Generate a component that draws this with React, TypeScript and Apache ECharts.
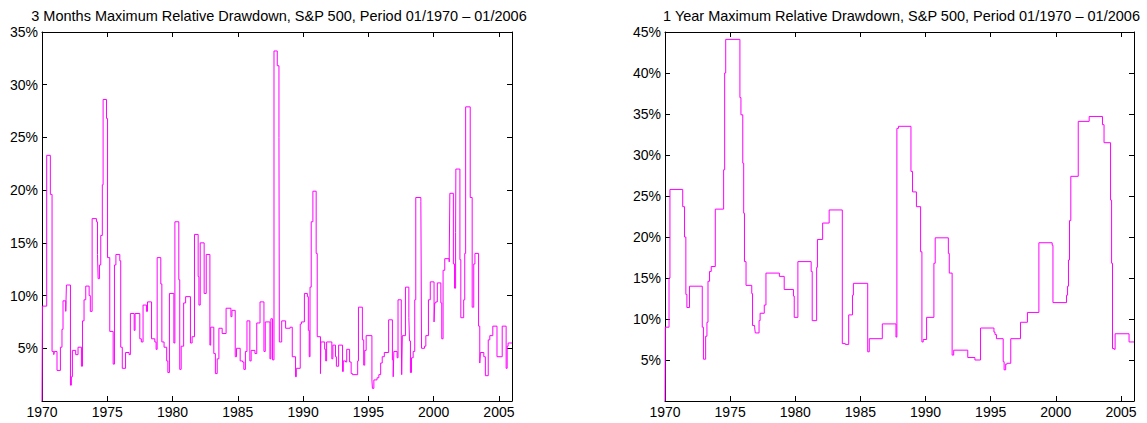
import React, { useEffect, useRef } from "react";
import * as echarts from "echarts";

const titles = [
  "3 Months Maximum Relative Drawdown, S&P 500, Period 01/1970 – 01/2006",
  "1 Year Maximum Relative Drawdown, S&P 500, Period 01/1970 – 01/2006",
];

const yearTicks = [1970, 1975, 1980, 1985, 1990, 1995, 2000, 2005];

// 3-month rolling maximum relative drawdown (%), step values starting at each date
const dd3mDates = [
  1970.0, 1970.03, 1970.36, 1970.64, 1970.77, 1970.9, 1970.95, 1971.15, 1971.41, 1971.53,
  1971.61, 1971.82, 1971.87, 1972.18, 1972.25, 1972.33, 1972.58, 1972.76, 1973.02, 1973.1,
  1973.22, 1973.35, 1973.61, 1973.7, 1973.84, 1974.17, 1974.25, 1974.3, 1974.4, 1974.5,
  1974.62, 1974.68, 1974.94, 1975.02, 1975.19, 1975.45, 1975.55, 1975.66, 1975.96, 1976.03,
  1976.15, 1976.4, 1976.67, 1976.77, 1977.06, 1977.13, 1977.49, 1977.61, 1977.74, 1978.0,
  1978.08, 1978.39, 1978.64, 1978.74, 1978.82, 1979.1, 1979.18, 1979.35, 1979.55, 1979.64,
  1979.76, 1980.1, 1980.18, 1980.48, 1980.55, 1980.66, 1980.85, 1981.0, 1981.37, 1981.5,
  1981.68, 1981.96, 1982.02, 1982.12, 1982.42, 1982.58, 1982.86, 1982.92, 1983.16, 1983.28,
  1983.42, 1983.55, 1983.8, 1984.1, 1984.47, 1984.55, 1984.8, 1984.9, 1985.18, 1985.36,
  1985.46, 1985.58, 1985.7, 1985.92, 1986.02, 1986.31, 1986.45, 1986.7, 1987.0, 1987.1,
  1987.46, 1987.53, 1987.66, 1987.77, 1988.02, 1988.15, 1988.18, 1988.36, 1988.66, 1989.01,
  1989.17, 1989.42, 1989.48, 1989.78, 1989.87, 1990.1, 1990.33, 1990.4, 1990.47, 1990.53,
  1990.62, 1990.75, 1991.0, 1991.08, 1991.33, 1991.36, 1991.65, 1991.73, 1991.8, 1992.2,
  1992.28, 1992.48, 1992.55, 1992.72, 1993.02, 1993.08, 1993.25, 1993.34, 1993.56, 1993.68,
  1993.78, 1994.18, 1994.24, 1994.54, 1994.64, 1994.72, 1994.83, 1995.27, 1995.31, 1995.42,
  1995.66, 1995.8, 1995.94, 1996.06, 1996.22, 1996.55, 1996.84, 1996.9, 1996.95, 1997.2,
  1997.27, 1997.52, 1997.55, 1997.6, 1997.84, 1998.1, 1998.15, 1998.22, 1998.3, 1998.43,
  1998.55, 1998.63, 1999.02, 1999.07, 1999.3, 1999.4, 1999.6, 1999.74, 2000.03, 2000.08,
  2000.16, 2000.28, 2000.55, 2000.62, 2000.72, 2000.85, 2001.19, 2001.24, 2001.51, 2001.6,
  2001.68, 2001.7, 2002.01, 2002.08, 2002.3, 2002.38, 2002.45, 2002.8, 2002.95, 2003.07,
  2003.16, 2003.44, 2003.53, 2003.58, 2003.84, 2003.96, 2004.18, 2004.3, 2004.53, 2004.85,
  2005.25, 2005.55, 2005.63, 2005.7, 2006.0,
];
const dd3mValues = [
  0, 9.0, 23.3, 19.6, 4.7, 4.4, 4.7, 2.9, 5.1, 6.8,
  9.5, 8.5, 11.0, 1.5, 2.3, 4.8, 4.4, 5.1, 3.3, 7.6,
  9.6, 10.9, 10.0, 8.5, 17.3, 17.0, 13.9, 11.6, 12.9, 15.7,
  20.5, 28.6, 26.8, 13.6, 6.6, 3.5, 12.9, 13.9, 13.3, 5.1,
  3.1, 4.6, 4.4, 8.3, 6.7, 8.3, 5.9, 5.6, 9.1, 8.5,
  9.4, 5.9, 5.6, 4.9, 13.6, 11.1, 5.6, 5.1, 3.8, 2.7,
  10.2, 5.5, 17.0, 11.5, 3.0, 5.2, 9.3, 9.9, 5.5, 6.1,
  15.8, 11.8, 9.1, 15.0, 10.2, 13.9, 5.3, 7.0, 4.5, 2.6,
  4.0, 6.9, 6.4, 8.8, 8.0, 8.6, 4.2, 5.0, 3.8, 3.7,
  3.0, 4.7, 7.6, 3.8, 4.8, 4.5, 7.4, 9.4, 4.7, 7.5,
  4.0, 7.8, 3.9, 33.2, 31.8, 25.0, 5.6, 7.6, 6.9, 7.0,
  4.2, 2.3, 3.1, 7.3, 7.5, 10.2, 9.9, 6.7, 4.2, 10.8,
  17.0, 19.9, 14.0, 6.1, 2.6, 5.6, 4.9, 3.8, 5.6, 4.0,
  5.3, 4.2, 3.3, 5.3, 2.8, 3.8, 3.7, 4.9, 3.7, 2.6,
  2.5, 3.8, 8.9, 5.8, 3.4, 4.8, 6.2, 2.0, 1.2, 2.0,
  2.2, 2.5, 3.6, 4.2, 4.6, 7.7, 3.9, 2.3, 4.7, 4.1,
  9.6, 6.2, 2.5, 6.2, 10.8, 7.9, 5.7, 2.7, 4.1, 4.7,
  9.6, 19.3, 18.9, 5.0, 5.2, 6.2, 9.6, 11.3, 7.5, 9.3,
  9.4, 11.2, 9.3, 5.9, 12.4, 13.5, 13.2, 19.7, 13.0, 10.7,
  16.0, 22.0, 13.4, 7.9, 9.6, 14.0, 27.9, 19.3, 8.9, 13.0,
  14.0, 7.1, 3.6, 4.6, 4.2, 2.4, 5.8, 6.2, 7.1, 4.2,
  7.1, 3.1, 5.2, 5.5, 5.5,
];

// 1-year rolling maximum relative drawdown (%)
const dd1yDates = [
  1970.0, 1970.02, 1970.31, 1970.38, 1971.36, 1971.5, 1971.6, 1971.68, 1971.88, 1972.86,
  1972.95, 1973.12, 1973.22, 1973.3, 1973.42, 1973.55, 1973.86, 1974.5, 1974.58, 1974.66,
  1975.75, 1975.83, 1975.97, 1976.04, 1976.1, 1976.22, 1976.66, 1976.72, 1976.88, 1976.93,
  1977.22, 1977.3, 1977.62, 1977.75, 1978.78, 1979.15, 1979.86, 1979.92, 1980.2, 1981.22,
  1981.3, 1981.64, 1981.7, 1982.1, 1982.6, 1983.61, 1983.84, 1984.1, 1984.39, 1984.46,
  1985.56, 1985.68, 1986.68, 1987.73, 1987.8, 1987.92, 1988.88, 1989.0, 1989.3, 1989.62,
  1989.72, 1989.82, 1990.08, 1990.64, 1990.74, 1991.75, 1991.82, 1992.04, 1992.16, 1993.24,
  1993.79, 1994.22, 1995.25, 1995.33, 1995.44, 1995.96, 1996.03, 1996.15, 1996.26, 1996.54,
  1997.29, 1997.82, 1998.7, 1999.72, 1999.78, 2000.82, 2000.9, 2000.97, 2001.05, 2001.15,
  2001.72, 2002.56, 2003.58, 2003.7, 2004.2, 2004.28, 2004.35, 2004.48, 2004.55, 2005.62,
  2006.0,
];
const dd1yValues = [
  0, 9.0, 15.0, 25.8, 23.7, 20.0, 13.0, 11.4, 14.0, 9.0,
  5.1, 7.9, 9.6, 14.6, 15.8, 16.4, 23.4, 28.2, 40.0, 44.1,
  37.0, 34.9, 29.0, 22.9, 17.0, 14.1, 13.1, 9.2, 9.0, 8.3,
  9.8, 10.7, 11.7, 15.6, 15.2, 13.6, 12.8, 10.2, 17.0, 15.8,
  9.8, 16.3, 19.7, 21.7, 23.3, 7.0, 6.9, 10.5, 12.9, 14.35,
  6.0, 7.6, 9.4, 7.8, 33.25, 33.5, 28.0, 25.5, 23.7, 18.2,
  7.2, 7.5, 10.2, 16.8, 19.9, 18.0, 15.6, 5.6, 6.2, 5.3,
  5.0, 8.9, 8.4, 8.1, 7.6, 4.8, 3.8, 4.5, 4.6, 7.6,
  9.6, 10.8, 19.3, 19.0, 12.0, 12.9, 14.0, 17.2, 22.0, 27.4,
  34.1, 34.7, 33.7, 31.5, 24.5, 16.8, 6.4, 6.3, 8.2, 7.2,
  7.2,
];

const FONT = '"Liberation Sans", Arial, Helvetica, sans-serif';

export default function App() {
  const ref = useRef<HTMLDivElement>(null);

  useEffect(() => {
    document.body.style.margin = "0";
    if (!ref.current) return;
    const chart = echarts.init(ref.current, undefined, { renderer: "svg" });

    const axisLine = { show: true, onZero: false, lineStyle: { color: "#000", width: 1 } };
    const tick = { show: true, inside: true, length: 5, lineStyle: { color: "#000", width: 1 } };
    const xFmt = (v: number) => (yearTicks.indexOf(v) >= 0 ? String(v) : "");
    const yFmt = (v: number) => (v === 0 ? "" : v + "%");
    const labelStyle = { fontSize: 14, color: "#000", fontFamily: FONT };

    const grids = [
      { left: 42, top: 32, width: 470, height: 369 },
      { left: 665, top: 32, width: 469, height: 369 },
    ];
    const yMax = [35, 45];

    const xAxis: any[] = [];
    const yAxis: any[] = [];
    grids.forEach((_, i) => {
      xAxis.push({
        gridIndex: i, type: "value", min: 1970, max: 2006, interval: 5, position: "bottom",
        axisLine, axisTick: tick, splitLine: { show: false },
        axisLabel: { ...labelStyle, formatter: xFmt, margin: 4 },
      });
      xAxis.push({
        gridIndex: i, type: "value", min: 1970, max: 2006, interval: 5, position: "top",
        axisLine, axisTick: tick, splitLine: { show: false }, axisLabel: { show: false },
      });
      yAxis.push({
        gridIndex: i, type: "value", min: 0, max: yMax[i], interval: 5, position: "left",
        axisLine, axisTick: tick, splitLine: { show: false },
        axisLabel: { ...labelStyle, formatter: yFmt, margin: 4 },
      });
      yAxis.push({
        gridIndex: i, type: "value", min: 0, max: yMax[i], interval: 5, position: "right",
        axisLine, axisTick: tick, splitLine: { show: false }, axisLabel: { show: false },
      });
    });

    const mk = (dates: number[], vals: number[]) => dates.map((d, k) => [d, vals[k]]);

    chart.setOption({
      animation: false,
      backgroundColor: "#fff",
      title: titles.map((t, i) => ({
        text: t,
        left: grids[i].left + grids[i].width / 2 + 2,
        top: 8,
        padding: 0,
        textAlign: "center",
        textStyle: { fontSize: 14.5, fontWeight: "normal", color: "#000", fontFamily: FONT },
      })),
      grid: grids,
      xAxis,
      yAxis,
      series: [
        {
          type: "line", xAxisIndex: 0, yAxisIndex: 0, step: "end", showSymbol: false,
          data: mk(dd3mDates, dd3mValues),
          lineStyle: { color: "#ff00ff", width: 1 }, itemStyle: { color: "#ff00ff" },
        },
        {
          type: "line", xAxisIndex: 2, yAxisIndex: 2, step: "end", showSymbol: false,
          data: mk(dd1yDates, dd1yValues),
          lineStyle: { color: "#ff00ff", width: 1 }, itemStyle: { color: "#ff00ff" },
        },
      ],
    });
    return () => chart.dispose();
  }, []);

  return <div ref={ref} style={{ width: 1147, height: 423 }} />;
}
